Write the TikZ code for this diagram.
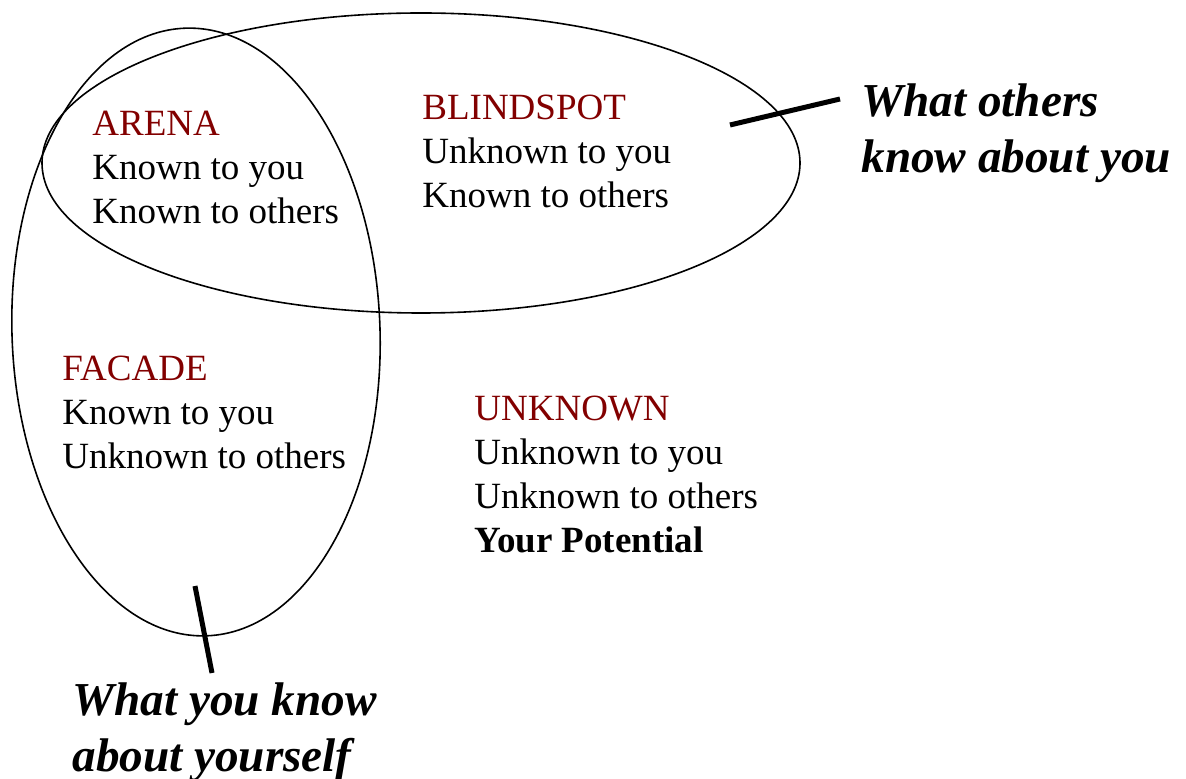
\documentclass[tikz,border=0pt]{standalone}
\usepackage{fontspec}
\setmainfont{Liberation Serif}
\usepackage{xcolor}
\usepackage{tikz}
\definecolor{quadred}{RGB}{130,0,0}

\begin{document}
\begin{tikzpicture}[x=0.5pt,y=-0.5pt,
  window/.style={anchor=base west,inner sep=0pt,font=\fontsize{18.5}{22}\selectfont},
  caption/.style={anchor=base west,inner sep=0pt,font=\fontsize{23.6}{28}\selectfont\bfseries\itshape},
  tick/.style={line width=2.5pt}]
  \useasboundingbox (0,0) rectangle (1186,779);
  \def\ox{421}; %centre of what others know%
  \def\oy{163};
  \def\sx{196}; %centre of what you know%
  \def\sy{332};
  \draw[line width=0.8pt] (\ox,\oy) ellipse [x radius=379, y radius=150]; %others%
  \draw[line width=0.8pt, rotate around={2:(\sx,\sy)}] (\sx,\sy) ellipse [x radius=184, y radius=304]; %self%

  \node[window] (arena) at (92,136) {\begin{tabular}[t]{@{}l@{}}\textcolor{quadred}{ARENA}\\Known to you\\Known to others\end{tabular}};
  \node[window] (blindspot) at (422,120) {\begin{tabular}[t]{@{}l@{}}\textcolor{quadred}{BLINDSPOT}\\Unknown to you\\Known to others\end{tabular}};
  \node[window] (facade) at (62,381) {\begin{tabular}[t]{@{}l@{}}\textcolor{quadred}{FACADE}\\Known to you\\Unknown to others\end{tabular}};
  \node[window] (unknown) at (474,421) {\begin{tabular}[t]{@{}l@{}}\textcolor{quadred}{UNKNOWN}\\Unknown to you\\Unknown to others\\\textbf{Your Potential}\end{tabular}};

  \node[caption] (others) at (861,117) {\begin{tabular}[t]{@{}l@{}}What others\\know about you\end{tabular}};
  \node[caption] (self) at (72,715) {\begin{tabular}[t]{@{}l@{}}What you know\\about yourself\end{tabular}};

  \coordinate (others in) at (730,125);
  \coordinate (others out) at (840,99);
  \coordinate (self in) at (195,586);
  \coordinate (self out) at (212,673);
  \draw[tick] (others in) -- (others out);
  \draw[tick] (self in) -- (self out);
\end{tikzpicture}
\end{document}
